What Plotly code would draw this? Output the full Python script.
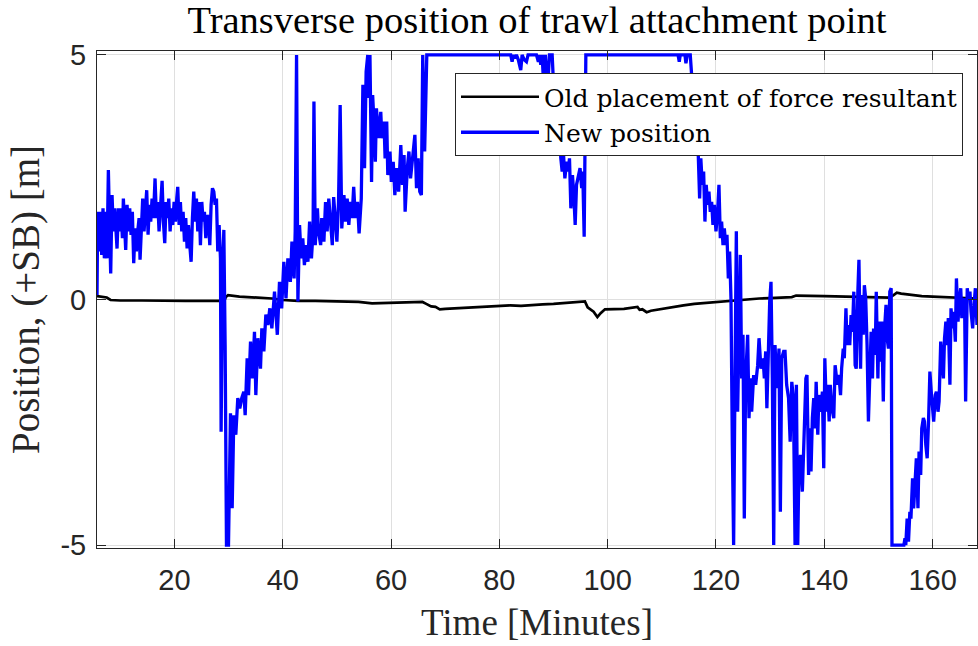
import plotly.graph_objects as go

# ---------------------------------------------------------------
# Transverse position of the trawl attachment point over the haul
# Time in minutes, position in metres (+ towards starboard)
# ---------------------------------------------------------------

# New attachment point position, stretch 1 (start of haul to ~38 min)
t_new_a = [5.70, 5.83, 6.07, 6.30, 6.57, 6.81, 7.06, 7.30, 7.55, 7.80,
           8.04, 8.23, 8.48, 8.72, 8.97, 9.21, 9.40, 9.65, 9.89, 10.14,
           10.39, 10.57, 10.82, 11.00, 11.25, 11.50, 11.74, 11.99, 12.23, 12.48,
           12.73, 12.97, 13.22, 13.47, 13.65, 13.90, 14.14, 14.39, 14.64, 14.88,
           15.13, 15.38, 15.62, 15.87, 16.12, 16.42, 16.67, 16.92, 17.16, 17.41,
           17.72, 17.96, 18.21, 18.46, 18.70, 18.95, 19.20, 19.44, 19.69, 19.94,
           20.18, 20.43, 20.61, 20.86, 21.10, 21.35, 21.60, 21.85, 22.09, 22.34,
           22.58, 22.83, 23.08, 23.32, 23.57, 23.82, 24.06, 24.31, 24.56, 24.80,
           25.05, 25.30, 25.54, 25.79, 26.03, 26.28, 26.53, 26.77, 27.02, 27.27,
           27.51, 27.76, 28.00, 28.25, 28.50, 28.62, 28.87, 29.12, 29.36, 29.61,
           29.98, 30.35, 30.66, 30.97, 31.33, 31.70, 32.07, 32.44, 32.81, 33.06,
           33.43, 33.68, 34.05, 34.41, 34.78, 35.03, 35.40, 35.89, 36.14, 36.51,
           36.88, 37.25, 37.62, 37.99, 38.48]
y_new_a = [0.10, 1.80, 0.99, 1.80, 0.92, 1.87, 0.85, 1.80, 0.85, 2.65,
           1.40, 0.54, 2.14, 1.40, 1.87, 1.33, 1.05, 1.87, 1.40, 1.87,
           1.26, 2.07, 1.60, 1.02, 1.94, 1.40, 1.87, 1.33, 1.80, 0.75,
           1.46, 0.99, 1.40, 1.67, 0.82, 1.67, 2.07, 1.40, 2.00, 2.24,
           1.33, 1.94, 1.60, 2.07, 1.67, 2.48, 1.67, 2.00, 1.40, 1.94,
           2.43, 1.60, 1.16, 2.00, 1.67, 2.07, 1.40, 1.87, 1.53, 2.00,
           1.60, 2.07, 2.31, 1.53, 2.00, 1.40, 1.80, 1.19, 1.67, 1.05,
           1.53, 1.12, 0.78, 1.67, 2.21, 1.60, 2.07, 1.40, 2.00, 1.12,
           2.00, 1.60, 1.80, 1.26, 1.73, 1.67, 1.12, 1.94, 2.28, 2.21,
           1.94, 2.07, 0.99, 1.53, 0.85, -2.69, 0.44, 1.43, -0.92, -5.00,
           -5.00, -2.31, -4.25, -2.35, -2.75, -2.00, -2.21, -2.00, -1.87, -2.35,
           -1.19, -1.94, -0.85, -1.60, -0.65, -1.94, -0.78, -1.40, -0.58, -1.05,
           -0.30, -0.51, -0.17, -0.58, 0.17]

# Stretch 2 (~39 to ~67 min)
t_new_b = [39.0, 39.4, 39.8, 40.2, 40.6, 40.95, 41.4, 41.7, 42.1, 42.3,
           42.55, 42.8, 43.1, 43.4, 43.7, 44.0, 44.3, 44.65, 44.96, 45.3,
           45.6, 45.76, 46.0, 46.4, 46.6, 47.0, 47.2, 47.6, 47.9, 48.2,
           48.5, 48.8, 49.15, 49.4, 49.7, 50.0, 50.3, 50.6, 50.9, 51.3,
           51.6, 51.9, 52.2, 52.5, 52.8, 53.1, 53.4, 53.8, 54.1, 54.5,
           54.8, 55.1, 55.4, 55.7, 55.9, 56.1, 56.4, 56.6, 56.9, 57.1,
           57.3, 57.7, 58.1, 58.3, 58.7, 58.9, 59.2, 59.4, 59.8, 60.05,
           60.4, 60.7, 61.0, 61.4, 61.8, 62.1, 62.4, 62.6, 63.0, 63.3,
           63.6, 64.0, 64.4, 64.7, 65.0, 65.3, 65.6, 65.85, 66.2, 66.6]
y_new_b = [-0.71, 0.37, -0.17, 0.78, 0.03, 0.85, 0.37, 1.19, 0.44, 1.40,
           5.00, -0.03, 1.53, 0.85, 1.26, 0.71, 1.12, 0.78, 1.60, 0.85,
           1.40, 4.05, 1.12, 1.87, 1.40, 1.12, 1.67, 1.19, 2.00, 1.40,
           2.07, 1.53, 1.12, 2.10, 1.60, 1.19, 2.00, 3.98, 1.46, 2.14,
           1.60, 2.07, 1.53, 2.00, 1.67, 2.31, 1.67, 2.00, 1.36, 2.07,
           4.39, 2.69, 4.66, 5.00, 4.12, 5.00, 2.41, 4.18, 3.50, 2.82,
           3.91, 3.30, 3.84, 3.30, 3.64, 2.89, 3.64, 2.55, 3.03, 2.41,
           2.82, 2.14, 2.69, 2.21, 3.16, 2.35, 2.96, 1.80, 2.69, 3.03,
           2.48, 2.96, 3.37, 2.28, 2.89, 2.21, 2.14, 5.00, 3.03, 5.00]

# Stretch 3 (saturated at +5 m, short dip around 90-96 min)
t_new_c = [82.1, 82.35, 82.6, 82.85, 83.15, 83.5, 83.95, 84.2, 84.6, 85.0,
           85.3, 86.85, 87.2, 87.4, 87.65, 87.9, 88.15, 88.5, 88.9, 89.25,
           89.75, 90.0, 90.4, 90.8, 91.15, 91.35, 91.6, 91.85, 92.1, 92.4,
           92.7, 92.95, 93.2, 93.5, 93.75, 94.0, 94.25, 94.55, 94.9, 95.2,
           95.4, 95.66, 95.85, 95.97]
y_new_c = [5.00, 4.86, 5.00, 4.93, 5.00, 4.90, 4.69, 5.00, 4.90, 4.86,
           5.00, 5.00, 4.86, 5.00, 4.80, 5.00, 4.45, 5.00, 4.30, 5.00,
           5.00, 4.40, 3.60, 4.10, 3.20, 2.89, 2.62, 2.96, 2.48, 2.82,
           2.62, 2.89, 1.87, 2.55, 2.14, 1.53, 2.35, 2.48, 2.69, 2.28,
           2.62, 1.29, 2.89, 5.00]

# Stretch 4 (saturated, then the swing to port from ~116 min)
t_new_d = [113.0, 113.22, 113.4, 114.27, 114.45, 114.7, 115.25, 115.5, 115.8, 116.1,
           116.4, 116.73, 116.98, 117.2, 117.47, 117.72, 117.96, 118.2, 118.46, 118.7,
           118.95, 119.2, 119.44, 119.69, 120.0, 120.3, 120.55, 120.8, 121.04, 121.3,
           121.54, 121.8, 122.03, 122.28, 122.52, 122.77, 123.02, 123.26, 123.51, 123.76,
           124.0, 124.25, 124.5, 124.74, 124.99, 125.23, 125.48, 125.85, 126.1, 126.34,
           126.59, 126.96, 127.33, 127.7, 127.95, 128.3, 128.7, 128.93, 129.18, 129.4,
           129.67, 129.92, 130.16, 130.41, 130.66, 130.9, 131.27, 131.64, 131.89, 132.14,
           132.5]
y_new_d = [5.00, 4.86, 5.00, 5.00, 4.83, 5.00, 5.00, 4.60, 3.80, 4.20,
           3.30, 2.96, 2.07, 2.89, 2.35, 2.62, 1.60, 2.35, 1.94, 2.21,
           1.80, 2.00, 1.53, 1.94, 1.40, 1.80, 2.35, 1.26, 1.60, 1.12,
           1.46, 1.12, 1.33, 0.44, 0.99, 0.03, -2.96, -5.00, -1.60, 1.40,
           -2.28, -0.78, 0.92, -1.60, -0.71, -4.46, -1.60, -0.71, -2.41, -1.60,
           -2.28, -1.53, -1.73, -1.33, -0.78, -1.40, -1.19, -1.60, -1.05, -2.21,
           -0.78, -0.03, 0.37, -1.60, -5.00, -0.92, -1.80, -0.99, -4.32, -1.19,
           -1.05]

# Stretch 5 (~133 min to end of haul)
t_new_e = [132.75, 133.05, 133.4, 133.7, 134.0, 134.3, 134.6, 134.85, 135.1, 135.3,
           135.6, 135.95, 136.2, 136.6, 136.8, 137.1, 137.3, 137.55, 137.8, 138.05,
           138.3, 138.5, 138.8, 139.0, 139.4, 139.65, 139.9, 140.1, 140.4, 140.6,
           140.9, 141.1, 141.4, 141.75, 142.0, 142.4, 142.7, 143.0, 143.2, 143.5,
           143.7, 144.0, 144.2, 144.45, 144.7, 144.95, 145.2, 145.45, 145.7, 145.9,
           146.2, 146.4, 146.7, 146.9, 147.2, 147.4, 147.65, 147.9, 148.15, 148.4,
           148.65, 148.9, 149.1, 149.4, 149.6, 149.9, 150.1, 150.4, 150.6, 150.9,
           151.1, 151.4, 151.6, 151.85, 152.1, 152.35, 152.5, 154.7, 154.9, 155.05,
           155.3, 155.55, 155.8, 156.0, 156.3, 156.5, 156.8, 157.0, 157.3, 157.5,
           157.8, 158.0, 158.3, 158.5, 158.75, 159.0, 159.25, 159.5, 159.75, 160.0,
           160.2, 160.5, 160.7, 161.0, 161.2, 161.5, 161.7, 162.0, 162.2, 162.45,
           162.7, 162.9, 163.2, 163.4, 163.7, 163.9, 164.2, 164.4, 164.7, 164.9,
           165.2, 165.4, 165.65, 165.9, 166.1, 166.4, 166.6, 166.9, 167.1, 167.4,
           167.6, 167.9, 168.2]
y_new_e = [-1.05, -1.73, -2.00, -2.89, -1.67, -2.00, -5.00, -1.73, -5.00, -3.50,
           -3.16, -3.91, -3.03, -1.60, -1.53, -3.57, -2.62, -3.50, -2.41, -2.00,
           -2.62, -1.67, -2.75, -1.94, -2.28, -1.87, -3.43, -1.19, -2.28, -1.73,
           -2.48, -1.73, -2.21, -2.41, -1.33, -1.73, -1.53, -1.94, -1.40, -0.99,
           -1.19, -0.17, -0.92, -0.51, -0.92, -0.31, -0.65, 0.17, -1.33, -1.40,
           0.17, 0.82, -1.40, 0.10, -0.71, 0.30, 0.03, -0.92, -2.48, -1.26,
           -0.65, -1.60, -0.58, -1.12, 0.17, -1.60, -0.44, -1.26, -0.44, -2.07,
           -0.65, -0.10, -0.78, -0.99, 0.17, 0.24, -5.00, -5.00, -4.86, -5.00,
           -4.46, -4.93, -4.32, -4.46, -3.64, -4.25, -3.64, -3.23, -4.25, -3.09,
           -3.57, -2.62, -2.41, -2.48, -2.96, -3.23, -2.48, -1.46, -1.87, -2.28,
           -2.48, -1.94, -1.87, -2.28, -2.07, -0.85, -1.26, -1.60, -0.78, -0.44,
           -0.92, -0.37, -1.73, -0.17, -0.58, -0.24, -0.85, 0.44, -0.44, -0.03,
           0.24, -0.37, -0.03, 0.03, -2.07, 0.24, 0.03, 0.17, -0.24, -0.58,
           -0.17, 0.24, -0.51]

# Old placement of the force resultant
t_old = [5.7, 6.5, 7.5, 8.2, 10, 14, 18, 22, 26, 29.2,
         29.5, 29.9, 32, 35, 38, 40, 42.8, 46, 50, 54,
         56.5, 60, 63, 65.8, 66.5, 67.0, 67.4, 68.2, 69.0, 70,
         72, 74, 76, 78, 80, 82, 84, 86, 88, 90,
         92, 94, 95.8, 96.3, 96.8, 97.4, 98.1, 98.7, 99.5, 101,
         103, 105.5, 105.9, 106.4, 107.2, 108, 110, 112, 114, 116,
         118, 120, 122, 124, 126, 128, 130, 132, 134, 134.8,
         137, 140, 144, 148, 152, 152.8, 153.4, 154.2, 156, 158,
         160, 163, 166, 168.2]
y_old = [0.08, 0.07, 0.05, 0.00, -0.01, -0.01, -0.02, -0.02, -0.02, -0.02,
         0.06, 0.10, 0.07, 0.05, 0.03, 0.00, -0.02, -0.02, -0.03, -0.04,
         -0.07, -0.06, -0.05, -0.04, -0.08, -0.10, -0.13, -0.14, -0.19, -0.18,
         -0.17, -0.16, -0.15, -0.14, -0.13, -0.11, -0.12, -0.10, -0.09, -0.08,
         -0.06, -0.05, -0.03, -0.15, -0.20, -0.24, -0.35, -0.27, -0.19, -0.18,
         -0.18, -0.14, -0.20, -0.19, -0.25, -0.22, -0.18, -0.14, -0.11, -0.08,
         -0.06, -0.04, -0.02, 0.00, 0.02, 0.03, 0.04, 0.05, 0.06, 0.09,
         0.08, 0.08, 0.07, 0.06, 0.05, 0.10, 0.15, 0.13, 0.10, 0.08,
         0.07, 0.05, 0.04, 0.03]

x_ticks = [20, 40, 60, 80, 100, 120, 140, 160]
y_ticks = [-5, 0, 5]
y_tick_labels = ["-5", "0", "5"]

t_new = t_new_a + t_new_b + t_new_c + t_new_d + t_new_e
y_new = y_new_a + y_new_b + y_new_c + y_new_d + y_new_e

SERIF = "Liberation Serif, Times New Roman, serif"
LEGEND_SERIF = "DejaVu Serif, serif"
SANS = "Liberation Sans, Arial, sans-serif"
AXIS_COLOR = "#262626"

fig = go.Figure()
fig.add_trace(go.Scatter(
    x=t_old, y=y_old, mode="lines",
    name="Old placement of force resultant",
    line=dict(color="#000000", width=2.7),
))
fig.add_trace(go.Scatter(
    x=t_new, y=y_new, mode="lines",
    name="New position",
    line=dict(color="#0000ff", width=3.3),
))

axis_common = dict(
    showline=True, linecolor=AXIS_COLOR, linewidth=1, mirror="ticks",
    ticks="inside", ticklen=9, tickwidth=1, tickcolor=AXIS_COLOR,
    showgrid=True, gridcolor="#dfdfdf", gridwidth=1, zeroline=False,
    tickfont=dict(family=SANS, size=29, color=AXIS_COLOR),
)

fig.update_layout(
    width=978, height=646,
    margin=dict(l=97, r=1, t=51, b=98),
    paper_bgcolor="white", plot_bgcolor="white",
    title=dict(
        text="Transverse position of trawl attachment point",
        x=0.5, xanchor="center", xref="paper",
        y=1 - 20 / 646, yanchor="middle",
        font=dict(family=SERIF, size=38.5, color="#000000"),
    ),
    xaxis=dict(
        range=[5.7, 168.2], tickvals=x_ticks,
        ticklabelstandoff=6,
        title=dict(text="Time [Minutes]", standoff=14,
                   font=dict(family=SERIF, size=37, color=AXIS_COLOR)),
        **axis_common,
    ),
    yaxis=dict(
        range=[-5.06, 5.08], tickvals=y_ticks, ticktext=y_tick_labels,
        ticklabelstandoff=4,
        title=dict(text="Position, (+SB) [m]", standoff=8,
                   font=dict(family=SERIF, size=39, color=AXIS_COLOR)),
        **axis_common,
    ),
    legend=dict(
        x=(455 - 97) / 880, y=(548 - 73) / 497,
        xanchor="left", yanchor="top",
        bgcolor="white", bordercolor=AXIS_COLOR, borderwidth=1,
        font=dict(family=LEGEND_SERIF, size=25, color="#000000"),
        itemwidth=78,
        tracegroupgap=0,
    ),
    showlegend=True,
)

fig.write_html("out.html")
